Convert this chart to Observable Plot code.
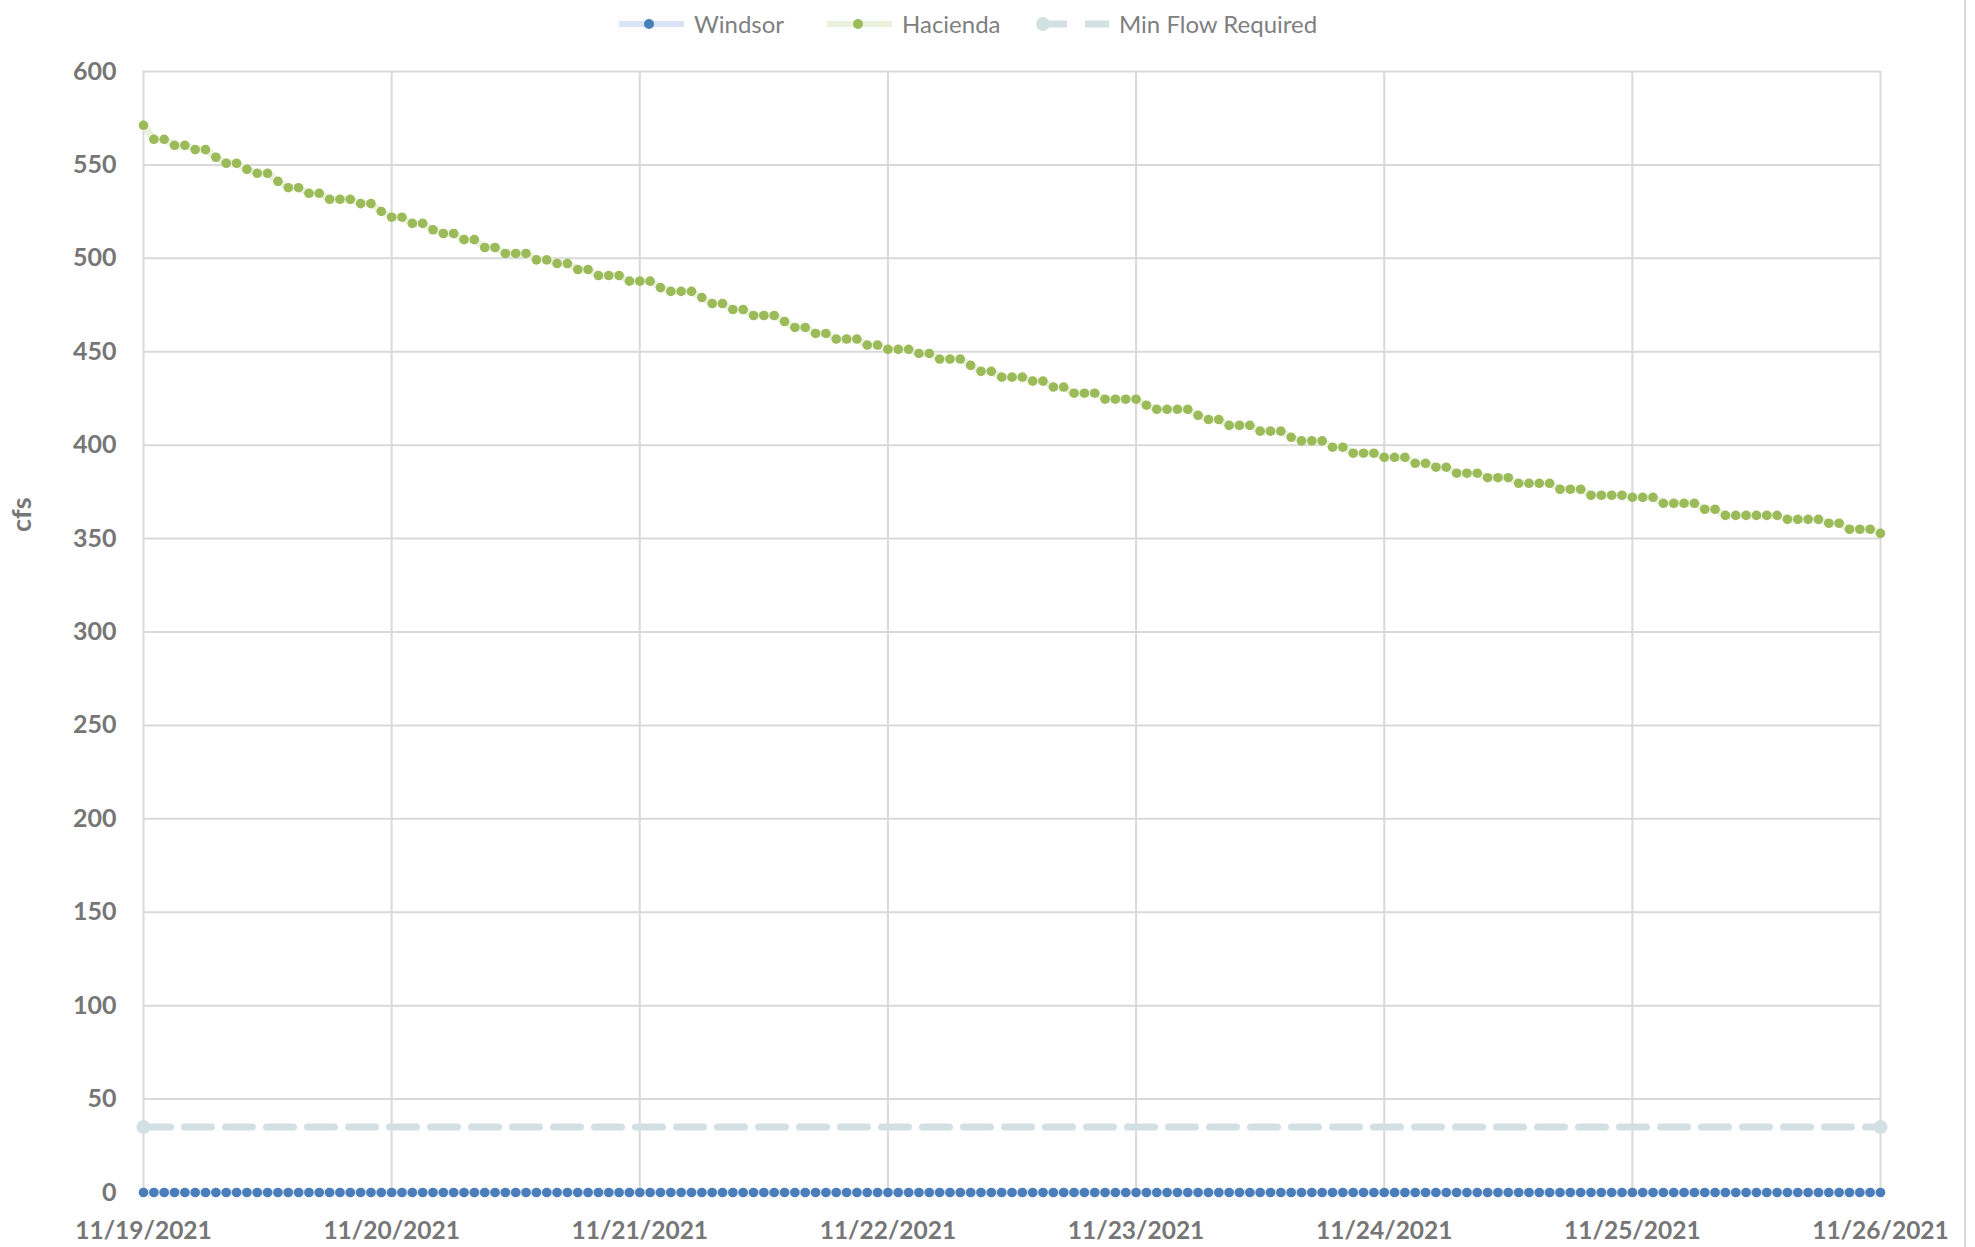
<!DOCTYPE html>
<html>
<head>
<meta charset="utf-8">
<script src="https://cdn.jsdelivr.net/npm/d3@7"></script>
<script src="https://cdn.jsdelivr.net/npm/@observablehq/plot@0.6"></script>
<style>
  html, body { margin: 0; padding: 0; background: #fff; }
  #wrap { position: relative; width: 1975px; height: 1247px; overflow: hidden; font-family: Lato, "Open Sans", sans-serif; }
  #legend { position: relative; height: 45px; width: 1975px; }
  #legend .txt { position: absolute; top: 9px; font-size: 24px; color: #7f7f7f; line-height: 30px; }
  #legend svg { position: absolute; left: 0; top: 0; }
  #frame { position: absolute; left: 1964px; top: 0; width: 2px; height: 1247px; background: #d9d9d9; }
</style>
</head>
<body>
<div id="wrap">
  <div id="legend"></div>
  <div id="chart"></div>
  <div id="frame"></div>
</div>
<script>
// ---------- data ----------
const seriesNames = ["Windsor", "Hacienda", "Min Flow Required"];
const seriesStart = "11/19/2021";          // first hourly reading
const xTickLabels = ["11/19/2021", "11/20/2021", "11/21/2021", "11/22/2021", "11/23/2021", "11/24/2021", "11/25/2021", "11/26/2021"];
const yTicks = [0, 50, 100, 150, 200, 250, 300, 350, 400, 450, 500, 550, 600];

// hourly readings, 11/19/2021 00:00 .. 11/26/2021 00:00 (cfs)
const haciendaValues = [
  571.2, 563.7, 563.7, 560.5, 560.5, 558.2, 558.2, 554.1, 550.9, 550.9, 547.6, 545.5, 545.5, 541.2, 537.8, 537.8,
  534.8, 534.8, 531.6, 531.6, 531.6, 529.3, 529.3, 525.1,
  522.0, 522.0, 518.7, 518.7, 515.3, 513.3, 513.3, 510.0, 510.0, 505.8, 505.8, 502.6, 502.6, 502.6, 499.2, 499.2,
  497.2, 497.2, 494.0, 494.0, 490.8, 490.8, 490.8, 487.8,
  487.8, 487.8, 484.3, 482.3, 482.3, 482.3, 479.0, 475.8, 475.8, 472.6, 472.6, 469.4, 469.4, 469.4, 466.2, 463.0,
  463.0, 459.8, 459.8, 456.8, 456.8, 456.8, 453.6, 453.6,
  451.3, 451.3, 451.3, 449.1, 449.1, 446.1, 446.1, 446.1, 442.7, 439.5, 439.5, 436.4, 436.4, 436.4, 434.3, 434.3,
  431.1, 431.1, 427.8, 427.8, 427.8, 424.6, 424.6, 424.6,
  424.6, 421.4, 419.2, 419.2, 419.2, 419.2, 416.0, 413.7, 413.7, 410.6, 410.6, 410.6, 407.5, 407.5, 407.5, 404.2,
  402.3, 402.3, 402.3, 398.9, 398.9, 395.7, 395.7, 395.7,
  393.5, 393.5, 393.5, 390.3, 390.3, 388.2, 388.2, 385.0, 385.0, 385.0, 382.6, 382.6, 382.6, 379.6, 379.6, 379.6,
  379.6, 376.4, 376.4, 376.4, 373.2, 373.2, 373.2, 373.2,
  372.1, 372.1, 372.1, 368.9, 368.9, 368.9, 368.9, 365.7, 365.7, 362.4, 362.4, 362.4, 362.4, 362.4, 362.4, 360.3,
  360.3, 360.3, 360.3, 358.2, 358.2, 355.0, 355.0, 355.0,
  352.8
];

const windsorValues = [
  0, 0, 0, 0, 0, 0, 0, 0, 0, 0, 0, 0, 0, 0, 0, 0, 0, 0, 0, 0, 0, 0, 0, 0,
  0, 0, 0, 0, 0, 0, 0, 0, 0, 0, 0, 0, 0, 0, 0, 0, 0, 0, 0, 0, 0, 0, 0, 0,
  0, 0, 0, 0, 0, 0, 0, 0, 0, 0, 0, 0, 0, 0, 0, 0, 0, 0, 0, 0, 0, 0, 0, 0,
  0, 0, 0, 0, 0, 0, 0, 0, 0, 0, 0, 0, 0, 0, 0, 0, 0, 0, 0, 0, 0, 0, 0, 0,
  0, 0, 0, 0, 0, 0, 0, 0, 0, 0, 0, 0, 0, 0, 0, 0, 0, 0, 0, 0, 0, 0, 0, 0,
  0, 0, 0, 0, 0, 0, 0, 0, 0, 0, 0, 0, 0, 0, 0, 0, 0, 0, 0, 0, 0, 0, 0, 0,
  0, 0, 0, 0, 0, 0, 0, 0, 0, 0, 0, 0, 0, 0, 0, 0, 0, 0, 0, 0, 0, 0, 0, 0,
  0
];

const minFlowDates = ["11/19/2021", "11/26/2021"];
const minFlowValues = [35, 35];

// ---------- build tables ----------
const parse = d3.utcParse("%m/%d/%Y");
const t0 = parse(seriesStart);
const hacienda = haciendaValues.map((v, i) => ({date: d3.utcHour.offset(t0, i), value: v}));
const windsor = windsorValues.map((v, i) => ({date: d3.utcHour.offset(t0, i), value: v}));
const minFlow = minFlowDates.map((d, i) => ({date: parse(d), value: minFlowValues[i]}));
const xTicks = xTickLabels.map(parse);

const colors = {
  windsorLine: "#dae3f3", windsorDot: "#4a7ebb",
  haciendaLine: "#ebf1de", haciendaDot: "#9bbb59",
  minFlow: "#d3e0e3", grid: "#d9d9d9", text: "#767676"
};

const chart = Plot.plot({
  width: 1975,
  height: 1202,
  marginTop: 26,
  marginBottom: 55,
  marginLeft: 143,
  marginRight: 95,
  style: {fontFamily: "Lato, 'Open Sans', sans-serif", color: colors.text, background: "white", overflow: "visible"},
  x: {type: "utc", domain: [xTicks[0], xTicks[xTicks.length - 1]]},
  y: {domain: [0, 600]},
  marks: [
    Plot.gridY(yTicks, {stroke: colors.grid, strokeOpacity: 1, strokeWidth: 2}),
    Plot.gridX(xTicks, {stroke: colors.grid, strokeOpacity: 1, strokeWidth: 2}),
    Plot.axisY(yTicks, {tickSize: 0, tickPadding: 27, fontSize: 25, fontWeight: "bold", fill: colors.text, label: null}),
    Plot.axisX(xTicks, {tickSize: 0, tickPadding: 29, fontSize: 24.5, fontWeight: "bold", fill: colors.text, label: null,
      tickFormat: d3.utcFormat("%m/%d/%Y")}),
    Plot.text(["cfs"], {frameAnchor: "left", dx: -121, dy: -100, rotate: -90, fontSize: 27, fontWeight: "bold", fill: colors.text}),
    // Windsor
    Plot.line(windsor, {x: "date", y: "value", stroke: colors.windsorLine, strokeWidth: 6}),
    Plot.dot(windsor, {x: "date", y: "value", r: 4.8, fill: colors.windsorDot, stroke: "none"}),
    // Hacienda
    Plot.line(hacienda, {x: "date", y: "value", stroke: colors.haciendaLine, strokeWidth: 7}),
    Plot.dot(hacienda, {x: "date", y: "value", r: 4.8, fill: colors.haciendaDot, stroke: "none"}),
    // Min Flow Required
    Plot.line(minFlow, {x: "date", y: "value", stroke: colors.minFlow, strokeWidth: 7, strokeDasharray: "27,14"}),
    Plot.dot(minFlow, {x: "date", y: "value", r: 7, fill: colors.minFlow, stroke: "none"})
  ]
});
document.getElementById("chart").appendChild(chart);

// ---------- legend ----------
const legend = document.getElementById("legend");
const ns = "http://www.w3.org/2000/svg";
const lsvg = document.createElementNS(ns, "svg");
lsvg.setAttribute("width", 1975);
lsvg.setAttribute("height", 45);
function el(tag, attrs) {
  const e = document.createElementNS(ns, tag);
  for (const k in attrs) e.setAttribute(k, attrs[k]);
  lsvg.appendChild(e);
}
const ly = 24;
el("line", {x1: 619, x2: 684, y1: ly, y2: ly, stroke: colors.windsorLine, "stroke-width": 6});
el("circle", {cx: 649, cy: ly, r: 5, fill: colors.windsorDot});
el("line", {x1: 827, x2: 892, y1: ly, y2: ly, stroke: colors.haciendaLine, "stroke-width": 6});
el("circle", {cx: 858, cy: ly, r: 5, fill: colors.haciendaDot});
el("line", {x1: 1043, x2: 1067, y1: ly, y2: ly, stroke: colors.minFlow, "stroke-width": 7});
el("circle", {cx: 1043, cy: ly, r: 7, fill: colors.minFlow});
el("line", {x1: 1085, x2: 1109, y1: ly, y2: ly, stroke: colors.minFlow, "stroke-width": 7});
legend.appendChild(lsvg);
const textX = [694, 902, 1119];
seriesNames.forEach((name, i) => {
  const s = document.createElement("span");
  s.className = "txt";
  s.style.left = textX[i] + "px";
  s.textContent = name;
  legend.appendChild(s);
});
</script>
</body>
</html>
